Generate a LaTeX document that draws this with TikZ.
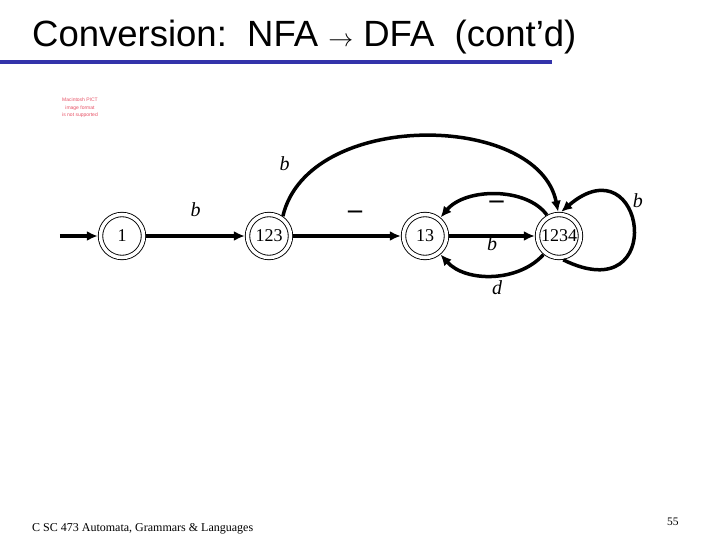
\documentclass[tikz,border=0pt]{standalone}
\usepackage{fontspec}
\setmainfont{Liberation Serif}
\newfontfamily\slidesans{Liberation Sans}
\usepackage{tikz}
\usetikzlibrary{arrows.meta,positioning}
\definecolor{slideBlue}{RGB}{51,51,170}
\definecolor{pictRed}{RGB}{230,80,100}
\tikzset{
    dfaState/.style={
        circle,
        draw,
        double,
        double distance=3.5pt,
        line width=0.9pt,
        minimum size=43pt,
        inner sep=0pt,
        outer sep=2.7pt,
        font=\fontsize{18}{20}\selectfont
    },
    % Edge labels
    symLabel/.style={font=\fontsize{20}{22}\selectfont\itshape, inner sep=0pt},
    dashLabel/.style={font=\fontsize{28}{30}\selectfont\bfseries, inner sep=0pt},
    % Slide text
    slideTitle/.style={anchor=base west, inner sep=0pt, font=\slidesans\fontsize{36.5}{40}\selectfont},
    slideFoot/.style={anchor=base west, inner sep=0pt, font=\fontsize{12}{14}\selectfont},
    % Arrows
    dfaArrow/.style={-{Latex[length=11pt,width=10pt]}, line width=3.5pt}
}

\begin{document}
\begin{tikzpicture}[x=1pt, y=-1pt]
\useasboundingbox (0,0) rectangle (720,540);

\node[slideTitle] (title) at (32,47) {Conversion:\ \ NFA $\rightarrow$ DFA\ \ (cont’d)};
\draw[slideBlue, line width=4pt] (0,62) -- (552,62);

\node[font=\slidesans\fontsize{5}{7.7}\selectfont, text=pictRed, align=center] (pict) at (80,108) {Macintosh PICT\\image format\\is not supported};

% states
\node[dfaState] (s1) at (122,236) {1};
\node[dfaState, right=98.6pt of s1] (s123) {123};
\node[dfaState, right=107.6pt of s123] (s13) {13};
\node[dfaState, right=85.6pt of s13] (s1234) {1234};
\coordinate[left=38pt of s1.west] (init);

% transitions
\draw[dfaArrow] (init) -- (s1);
\draw[dfaArrow] (s1) -- (s123) node[symLabel, midway, yshift=26pt] {b};
\draw[dfaArrow] (s123) -- (s13) node[dashLabel, midway, xshift=8pt, yshift=21pt] {\textendash};
\draw[dfaArrow] (s123.55) .. controls +(25,-107) and +(-20,-100) .. (s1234.92)
    node[symLabel, pos=0.15, xshift=-22pt, yshift=12pt] {b};
\draw[dfaArrow] (s1234.120) .. controls +(-20,-28) and +(25,-30) .. (s13.50)
    node[dashLabel, pos=0.5, xshift=1pt, yshift=-10pt] {\textendash};
\draw[dfaArrow] (s13) -- (s1234) node[symLabel, midway, yshift=-8pt] {b};
\draw[dfaArrow] (s1234.230) .. controls +(-25,28) and +(25,28) .. (s13.-50)
    node[symLabel, pos=0.5, xshift=5pt, yshift=-12.5pt] {d};
\draw[dfaArrow] (s1234.-80) .. controls +(106,52) and +(84,-72) .. (s1234.85)
    node[symLabel, pos=0.65, xshift=13.5pt, yshift=5pt] {b};

\node[slideFoot] (footer) at (32,531) {C SC 473 Automata, Grammars \& Languages};
\node[slideFoot, font=\fontsize{11.5}{13}\selectfont] (pageno) at (667,525) {55};
\end{tikzpicture}
\end{document}
